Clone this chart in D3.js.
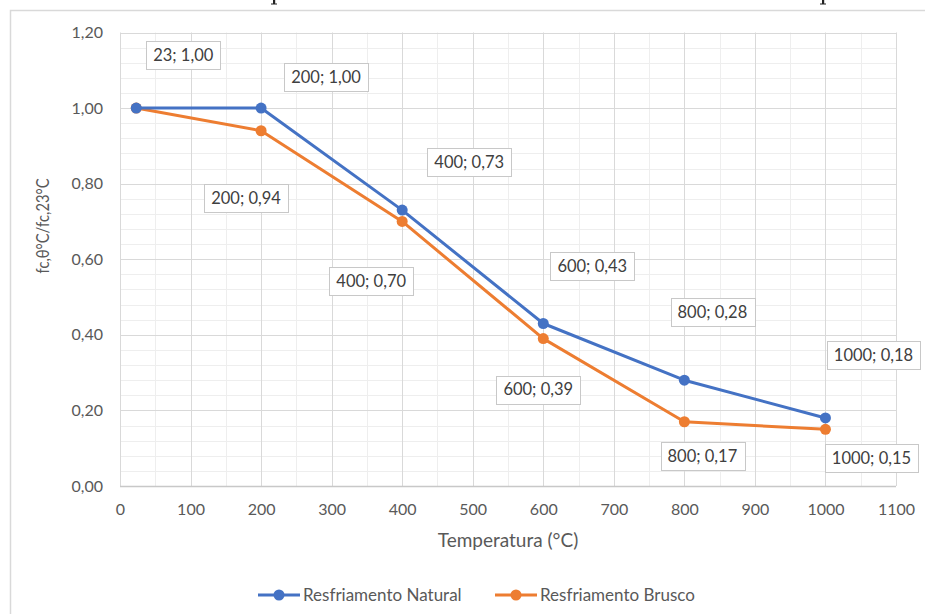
<!DOCTYPE html>
<html>
<head>
<meta charset="utf-8">
<script src="https://cdn.jsdelivr.net/npm/d3@7"></script>
<style>
  html, body { margin: 0; padding: 0; background: #fff; }
  svg { display: block; }
  text { font-family: Lato, "Open Sans", "Noto Sans", sans-serif; }
</style>
</head>
<body>
<svg id="chart" width="925" height="614"></svg>
<script>
// Temperatures (°C) tested for each cooling method
const temperatures = [23, 200, 400, 600, 800, 1000];
// Residual compressive strength ratio fc,θ / fc,23°C
const naturalValues = [1.00, 1.00, 0.73, 0.43, 0.28, 0.18];
const bruscoValues  = [1.00, 0.94, 0.70, 0.39, 0.17, 0.15];
const seriesNames = ["Resfriamento Natural", "Resfriamento Brusco"];

const xTicks = [0, 100, 200, 300, 400, 500, 600, 700, 800, 900, 1000, 1100];
const yTicks = [0, 0.2, 0.4, 0.6, 0.8, 1.0, 1.2];

// Data label placement (pixel offsets from each point); null = no label
const naturalLabelOffsets = [[47, -53], [65, -31], [67, -48], [49, -57], [28, -68], [48, -63]];
const bruscoLabelOffsets  = [null, [-15, 67], [-31, 60], [-5, 51], [18, 34], [46, 29]];

const colors = ["#4472C4", "#ED7D31"];

const pt = d3.formatLocale({ decimal: ",", thousands: ".", grouping: [3], currency: ["", ""] });
const f2 = pt.format(".2f");

const svg = d3.select("#chart");

// Descender strokes of the surrounding page's text line, trimmed by the top edge
svg.selectAll("path.page")
  .data([274, 823])
  .join("path")
  .attr("class", "page")
  .attr("d", d => `M${d - 1},0 h2.2 v3.6 h1.8 v1 h-6 v-1 h2 z`)
  .attr("fill", "#222");

// Chart frame (top and left edges visible)
svg.append("path")
  .attr("d", "M10.5,614 L10.5,10.5 L925,10.5")
  .attr("fill", "none")
  .attr("stroke", "#d9d9d9")
  .attr("stroke-width", 1.5);

const x = d3.scaleLinear().domain([0, 1100]).range([120, 896]);
const y = d3.scaleLinear().domain([0, 1.2]).range([486, 32.5]);

// Minor gridlines
const minorX = d3.range(50, 1100, 100);
const minorY = d3.range(0, 1.2001, 0.04).filter(v => Math.abs(v / 0.2 - Math.round(v / 0.2)) > 1e-6);
const grid = svg.append("g");
grid.selectAll("line.mx").data(minorX).join("line")
  .attr("x1", d => Math.round(x(d)) + 0.5).attr("x2", d => Math.round(x(d)) + 0.5)
  .attr("y1", y(1.2)).attr("y2", y(0))
  .attr("stroke", "#eeeeee").attr("stroke-width", 1);
grid.selectAll("line.my").data(minorY).join("line")
  .attr("x1", x(0)).attr("x2", x(1100))
  .attr("y1", d => Math.round(y(d)) + 0.5).attr("y2", d => Math.round(y(d)) + 0.5)
  .attr("stroke", "#eeeeee").attr("stroke-width", 1);

// Major gridlines
grid.selectAll("line.Mx").data(xTicks).join("line")
  .attr("x1", d => Math.round(x(d)) + 0.5).attr("x2", d => Math.round(x(d)) + 0.5)
  .attr("y1", y(1.2)).attr("y2", y(0))
  .attr("stroke", "#d9d9d9").attr("stroke-width", 1);
grid.selectAll("line.My").data(yTicks).join("line")
  .attr("x1", x(0)).attr("x2", x(1100))
  .attr("y1", d => Math.round(y(d)) + 0.5).attr("y2", d => Math.round(y(d)) + 0.5)
  .attr("stroke", d => d === 0 ? "#c8c8c8" : "#d9d9d9").attr("stroke-width", d => d === 0 ? 1.5 : 1);

// Axes
const xAxis = svg.append("g")
  .attr("transform", `translate(0,${y(0)})`)
  .call(d3.axisBottom(x).tickValues(xTicks).tickSize(0).tickPadding(18).tickFormat(d3.format("d")));
const yAxis = svg.append("g")
  .attr("transform", `translate(${x(0)},0)`)
  .call(d3.axisLeft(y).tickValues(yTicks).tickSize(0).tickPadding(17).tickFormat(f2));
[xAxis, yAxis].forEach(a => {
  a.select(".domain").remove();
  a.selectAll("text")
    .style("font-family", "Lato, 'Open Sans', sans-serif")
    .style("font-size", "16px")
    .attr("fill", "#595959");
});

// Axis titles
svg.append("text")
  .attr("x", (x(0) + x(1100)) / 2)
  .attr("y", 547)
  .attr("text-anchor", "middle")
  .style("font-size", "19px")
  .attr("fill", "#595959")
  .text("Temperatura (°C)");

svg.append("text")
  .attr("transform", `translate(49,226) rotate(-90)`)
  .attr("text-anchor", "middle")
  .attr("textLength", 95)
  .attr("lengthAdjust", "spacingAndGlyphs")
  .style("font-size", "16.5px")
  .attr("fill", "#595959")
  .text("fc,θ°C/fc,23°C");

// Series
const series = [
  { name: seriesNames[0], values: naturalValues, offsets: naturalLabelOffsets, color: colors[0] },
  { name: seriesNames[1], values: bruscoValues, offsets: bruscoLabelOffsets, color: colors[1] }
];

const line = d3.line().x(d => x(d[0])).y(d => y(d[1]));

// Orange series first so the blue one sits on top
[series[1], series[0]].forEach(s => {
  const pts = temperatures.map((t, i) => [t, s.values[i]]);
  svg.append("path")
    .datum(pts)
    .attr("d", line)
    .attr("fill", "none")
    .attr("stroke", s.color)
    .attr("stroke-width", 3)
    .attr("stroke-linejoin", "round");
  svg.append("g").selectAll("circle").data(pts).join("circle")
    .attr("cx", d => x(d[0]))
    .attr("cy", d => y(d[1]))
    .attr("r", 5.5)
    .attr("fill", s.color);
});

// Data labels
series.forEach(s => {
  temperatures.forEach((t, i) => {
    const off = s.offsets[i];
    if (!off) return;
    const cx = x(t) + off[0];
    const cy = y(s.values[i]) + off[1];
    const g = svg.append("g");
    const txt = g.append("text")
      .attr("x", cx)
      .attr("y", cy)
      .attr("dy", "0.35em")
      .attr("text-anchor", "middle")
      .style("font-size", "16.5px")
      .attr("fill", "#404040")
      .text(`${t}; ${f2(s.values[i])}`);
    const w = txt.node().getComputedTextLength() + 14;
    const h = 28;
    g.insert("rect", "text")
      .attr("x", Math.round(cx - w / 2) + 0.5)
      .attr("y", Math.round(cy - h / 2) + 0.5)
      .attr("width", Math.round(w))
      .attr("height", h)
      .attr("fill", "#fff")
      .attr("stroke", "#c8c8c8")
      .attr("stroke-width", 1);
  });
});

// Legend
const legendItems = [
  { name: seriesNames[0], color: colors[0], x: 258 },
  { name: seriesNames[1], color: colors[1], x: 495 }
];
const lg = svg.append("g").attr("transform", "translate(0,595)");
legendItems.forEach(item => {
  lg.append("line")
    .attr("x1", item.x).attr("x2", item.x + 42)
    .attr("y1", 0).attr("y2", 0)
    .attr("stroke", item.color).attr("stroke-width", 3);
  lg.append("circle")
    .attr("cx", item.x + 21).attr("cy", 0).attr("r", 5.5)
    .attr("fill", item.color);
  lg.append("text")
    .attr("x", item.x + 45).attr("y", 0).attr("dy", "0.35em")
    .style("font-size", "17px")
    .attr("fill", "#595959")
    .text(item.name);
});
</script>
</body>
</html>
